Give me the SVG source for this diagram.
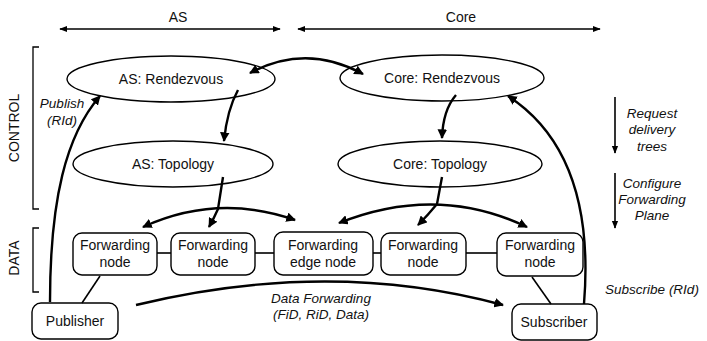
<svg xmlns="http://www.w3.org/2000/svg" width="707" height="341" viewBox="0 0 707 341">
<defs>
<marker id="ah" viewBox="0 0 10 10" refX="9" refY="5" markerWidth="4" markerHeight="4" orient="auto-start-reverse" markerUnits="strokeWidth">
<path d="M0,0 L10,5 L0,10 z" fill="#000"/>
</marker>
<marker id="ahs" viewBox="0 0 10 10" refX="9" refY="5" markerWidth="5" markerHeight="5" orient="auto-start-reverse" markerUnits="strokeWidth">
<path d="M0,1 L10,5 L0,9 z" fill="#000"/>
</marker>
</defs>
<style>
text{font-family:"Liberation Sans",Arial,sans-serif;font-size:14px;fill:#111;text-anchor:middle;}
.it{font-style:italic;font-size:13.5px;}
.el{fill:#fff;stroke:#000;stroke-width:1.4;}
.nd{fill:#fff;stroke:#000;stroke-width:1.4;}
.c{fill:none;stroke:#000;stroke-width:2.4;}
.t{fill:none;stroke:#000;stroke-width:1.6;}
.br{fill:none;stroke:#000;stroke-width:1.3;}
</style>
<rect width="707" height="341" fill="#fff"/>

<g id="scope">
<text x="178" y="22">AS</text>
<text x="461" y="22">Core</text>
<line class="t" x1="60" y1="29" x2="280" y2="29" marker-start="url(#ahs)" marker-end="url(#ahs)"/>
<line class="t" x1="298" y1="29" x2="600" y2="29" marker-start="url(#ahs)" marker-end="url(#ahs)"/>
</g>

<g id="brackets">
<path class="br" d="M39,47 H33 V209 H39"/>
<path class="br" d="M39,228 H33 V292 H39"/>
<text transform="translate(19,128) rotate(-90)">CONTROL</text>
<text transform="translate(19,258) rotate(-90)">DATA</text>
</g>

<g id="as-rendezvous">
<ellipse class="el" cx="171" cy="79" rx="104" ry="23"/>
<text x="171" y="84">AS: Rendezvous</text>
</g>
<g id="core-rendezvous">
<ellipse class="el" cx="442" cy="78" rx="102" ry="23"/>
<text x="442" y="83">Core: Rendezvous</text>
</g>
<g id="as-topology">
<ellipse class="el" cx="173" cy="164" rx="100" ry="23"/>
<text x="173" y="169">AS: Topology</text>
</g>
<g id="core-topology">
<ellipse class="el" cx="440" cy="164" rx="102" ry="23"/>
<text x="440" y="169">Core: Topology</text>
</g>

<g id="fn1">
<rect class="nd" x="73" y="233" width="84" height="42" rx="9"/>
<text x="115" y="250">Forwarding</text>
<text x="115" y="267">node</text>
</g>
<g id="fn2">
<rect class="nd" x="171" y="233" width="84" height="42" rx="9"/>
<text x="213" y="250">Forwarding</text>
<text x="213" y="267">node</text>
</g>
<g id="fedge">
<rect class="nd" x="274" y="232" width="99" height="43" rx="9"/>
<text x="323" y="250">Forwarding</text>
<text x="323" y="267">edge node</text>
</g>
<g id="fn4">
<rect class="nd" x="381" y="233" width="85" height="42" rx="9"/>
<text x="423" y="250">Forwarding</text>
<text x="423" y="267">node</text>
</g>
<g id="fn5">
<rect class="nd" x="497" y="233" width="86" height="43" rx="9"/>
<text x="540" y="250">Forwarding</text>
<text x="540" y="267">node</text>
</g>
<g id="publisher">
<rect class="nd" x="32" y="303" width="86" height="36" rx="9"/>
<text x="75" y="326">Publisher</text>
</g>
<g id="subscriber">
<rect class="nd" x="512" y="304" width="85" height="36" rx="9"/>
<text x="554" y="327">Subscriber</text>
</g>

<g id="connectors">
<line class="t" x1="157" y1="253" x2="171" y2="253"/>
<line class="t" x1="255" y1="253" x2="274" y2="253"/>
<line class="t" x1="373" y1="253" x2="381" y2="253"/>
<line class="t" x1="466" y1="253" x2="497" y2="253"/>
<line class="t" x1="82" y1="303" x2="100" y2="276"/>
<line class="t" x1="532" y1="277" x2="551" y2="304"/>

<path class="c" d="M250,73 Q306,43 363,74" marker-start="url(#ah)" marker-end="url(#ah)"/>
<path class="c" d="M238,90 Q227,110 224,141" marker-end="url(#ah)"/>
<path class="c" d="M456,95 Q443,110 442,138" marker-end="url(#ah)"/>

<path class="c" d="M143,227 Q218,193 295,220" marker-start="url(#ah)" marker-end="url(#ah)"/>
<path class="c" d="M223,177 L218,209 Q214,218 209,227" marker-end="url(#ah)"/>
<path class="c" d="M339,223 Q437,184 527,227" marker-start="url(#ah)" marker-end="url(#ah)"/>
<path class="c" d="M442,177 L437,204 Q428,215 418,225" marker-end="url(#ah)"/>

<path class="c" d="M50,302 C50,200 66,135 100,96" marker-end="url(#ah)"/>
<path class="c" d="M584,304 C592,205 568,135 508,96" marker-end="url(#ah)"/>
<path class="c" d="M136,305 Q330,258 503,305" marker-end="url(#ah)"/>

<line class="t" x1="615" y1="97" x2="615" y2="153" marker-end="url(#ahs)"/>
<line class="t" x1="615" y1="173" x2="615" y2="228" marker-end="url(#ahs)"/>
</g>

<g id="labels">
<text class="it" x="62" y="108">Publish</text>
<text class="it" x="62" y="125">(RId)</text>
<text class="it" x="652" y="118">Request</text>
<text class="it" x="652" y="134">delivery</text>
<text class="it" x="652" y="151">trees</text>
<text class="it" x="652" y="188">Configure</text>
<text class="it" x="652" y="204">Forwarding</text>
<text class="it" x="652" y="220">Plane</text>
<text class="it" x="652" y="294">Subscribe (RId)</text>
<text class="it" x="321" y="303">Data Forwarding</text>
<text class="it" x="321" y="319">(FiD, RiD, Data)</text>
</g>
</svg>
